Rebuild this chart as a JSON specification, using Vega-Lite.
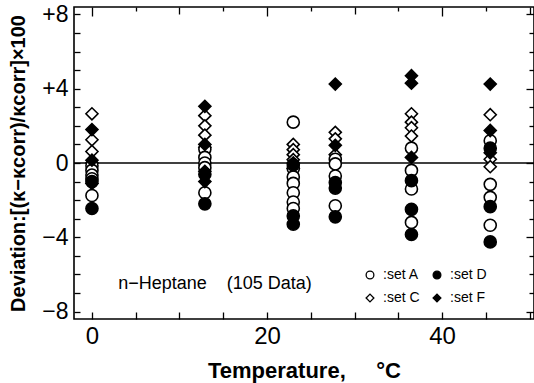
{
  "$schema": "https://vega.github.io/schema/vega-lite/v6.json",
  "width": 460,
  "height": 312,
  "autosize": {"type": "none"},
  "padding": {"left": 74, "top": 7, "right": 0, "bottom": 64},
  "background": "white",
  "config": {
    "view": {"stroke": "black", "strokeWidth": 1.6},
    "font": "Liberation Sans",
    "axis": {"domain": false, "grid": false, "tickColor": "black", "tickWidth": 1.3, "labelColor": "black", "titleColor": "black", "labelFont": "Liberation Sans", "titleFont": "Liberation Sans"},
    "legend": {"symbolStrokeColor": "black", "symbolStrokeWidth": 1.3}
  },
  "datasets": {
    "pts": [
      {"T": 0, "dev": 2.65, "set": "C"}, {"T": 0, "dev": 1.25, "set": "C"}, {"T": 0, "dev": 0.62, "set": "C"}, {"T": 0, "dev": 0.0, "set": "C"},
      {"T": 0, "dev": -0.15, "set": "A"}, {"T": 0, "dev": -0.4, "set": "A"}, {"T": 0, "dev": -0.65, "set": "A"}, {"T": 0, "dev": -0.85, "set": "A"}, {"T": 0, "dev": -1.75, "set": "A"},
      {"T": 0, "dev": 1.8, "set": "F"}, {"T": 0, "dev": 0.15, "set": "F"}, {"T": 0, "dev": -1.1, "set": "F"},
      {"T": 0, "dev": -1.0, "set": "D"}, {"T": 0, "dev": -2.45, "set": "D"},
      {"T": 12.9, "dev": 2.55, "set": "C"}, {"T": 12.9, "dev": 2.0, "set": "C"}, {"T": 12.9, "dev": 1.5, "set": "C"}, {"T": 12.9, "dev": 0.85, "set": "C"},
      {"T": 12.9, "dev": 0.75, "set": "A"}, {"T": 12.9, "dev": 0.3, "set": "A"}, {"T": 12.9, "dev": 0.0, "set": "A"}, {"T": 12.9, "dev": -0.25, "set": "A"}, {"T": 12.9, "dev": -1.6, "set": "A"},
      {"T": 12.9, "dev": 3.05, "set": "F"}, {"T": 12.9, "dev": 1.0, "set": "F"}, {"T": 12.9, "dev": -0.45, "set": "F"}, {"T": 12.9, "dev": -1.0, "set": "F"},
      {"T": 12.9, "dev": -0.6, "set": "D"}, {"T": 12.9, "dev": -2.2, "set": "D"},
      {"T": 23, "dev": 1.0, "set": "C"}, {"T": 23, "dev": 0.72, "set": "C"}, {"T": 23, "dev": 0.45, "set": "C"}, {"T": 23, "dev": 0.18, "set": "C"}, {"T": 23, "dev": -0.3, "set": "C"},
      {"T": 23, "dev": 2.2, "set": "A"}, {"T": 23, "dev": -0.3, "set": "A"}, {"T": 23, "dev": -0.75, "set": "A"}, {"T": 23, "dev": -1.1, "set": "A"}, {"T": 23, "dev": -1.6, "set": "A"}, {"T": 23, "dev": -2.1, "set": "A"}, {"T": 23, "dev": -2.45, "set": "A"},
      {"T": 23, "dev": 0.0, "set": "F"},
      {"T": 23, "dev": -0.1, "set": "D"}, {"T": 23, "dev": -2.85, "set": "D"}, {"T": 23, "dev": -3.3, "set": "D"},
      {"T": 27.8, "dev": 1.65, "set": "C"}, {"T": 27.8, "dev": 1.3, "set": "C"}, {"T": 27.8, "dev": 0.45, "set": "C"},
      {"T": 27.8, "dev": 0.2, "set": "A"}, {"T": 27.8, "dev": -0.05, "set": "A"}, {"T": 27.8, "dev": -0.7, "set": "A"}, {"T": 27.8, "dev": -2.3, "set": "A"},
      {"T": 27.8, "dev": 4.25, "set": "F"}, {"T": 27.8, "dev": 0.95, "set": "F"},
      {"T": 27.8, "dev": -1.05, "set": "D"}, {"T": 27.8, "dev": -1.35, "set": "D"}, {"T": 27.8, "dev": -2.9, "set": "D"},
      {"T": 36.5, "dev": 2.65, "set": "C"}, {"T": 36.5, "dev": 2.2, "set": "C"}, {"T": 36.5, "dev": 1.9, "set": "C"}, {"T": 36.5, "dev": 1.45, "set": "C"},
      {"T": 36.5, "dev": 0.8, "set": "A"}, {"T": 36.5, "dev": -0.4, "set": "A"}, {"T": 36.5, "dev": -1.4, "set": "A"}, {"T": 36.5, "dev": -3.2, "set": "A"},
      {"T": 36.5, "dev": 4.7, "set": "F"}, {"T": 36.5, "dev": 4.3, "set": "F"}, {"T": 36.5, "dev": 0.3, "set": "F"},
      {"T": 36.5, "dev": -0.95, "set": "D"}, {"T": 36.5, "dev": -2.5, "set": "D"}, {"T": 36.5, "dev": -3.85, "set": "D"},
      {"T": 45.5, "dev": 2.6, "set": "C"}, {"T": 45.5, "dev": 0.2, "set": "C"}, {"T": 45.5, "dev": -0.2, "set": "C"},
      {"T": 45.5, "dev": 1.2, "set": "A"}, {"T": 45.5, "dev": -1.15, "set": "A"}, {"T": 45.5, "dev": -1.85, "set": "A"}, {"T": 45.5, "dev": -3.35, "set": "A"},
      {"T": 45.5, "dev": 4.25, "set": "F"}, {"T": 45.5, "dev": 1.75, "set": "F"}, {"T": 45.5, "dev": 0.55, "set": "F"},
      {"T": 45.5, "dev": 0.8, "set": "D"}, {"T": 45.5, "dev": -2.35, "set": "D"}, {"T": 45.5, "dev": -4.25, "set": "D"}
    ],
    "notes": [{"T": 3, "dev": -6.5, "label": "n−Heptane\u00a0\u00a0\u00a0\u00a0(105 Data)"}]
  },
  "resolve": {"axis": {"x": "independent", "y": "independent"}},
  "layer": [
    {
      "data": {"name": "notes"},
      "mark": {"type": "rule", "color": "black", "strokeWidth": 1.3},
      "encoding": {"y": {"datum": 0, "type": "quantitative", "axis": null}}
    },
    {
      "data": {"name": "pts"},
      "mark": {"type": "point", "filled": false, "size": 145, "strokeWidth": 1.6, "opacity": 1},
      "encoding": {
        "x": {
          "field": "T", "type": "quantitative",
          "scale": {"domain": [-2.05, 50.5], "nice": false, "zero": false},
          "axis": {
            "orient": "bottom",
            "offset": -7,
            "values": [0, 5, 10, 15, 20, 25, 30, 35, 40, 45, 50],
            "labelExpr": "datum.value % 20 === 0 ? datum.label : ''",
            "tickSize": 7,
            "labelPadding": 5,
            "labelFontSize": 24,
            "labelFlush": false,
            "title": "Temperature,\u00a0\u00a0\u00a0\u00a0\u00a0°C",
            "titleFontSize": 22,
            "titleFontWeight": "bold",
            "titleBaseline": "middle",
            "titleY": 58
          }
        },
        "y": {
          "field": "dev", "type": "quantitative",
          "scale": {"domain": [-8.4, 8.4], "nice": false, "zero": false},
          "axis": {
            "orient": "left",
            "offset": -6,
            "values": [-8, -7, -6, -5, -4, -3, -2, -1, 0, 1, 2, 3, 4, 5, 6, 7, 8],
            "labelExpr": "datum.value % 4 !== 0 ? '' : datum.value > 0 ? '+' + datum.value : datum.value < 0 ? '−' + abs(datum.value) : '0'",
            "tickSize": 6,
            "labelPadding": 6,
            "labelFontSize": 23,
            "labelFlush": false,
            "title": "Deviation:[(κ−κcorr)/κcorr]×100",
            "titleFontSize": 20,
            "titleFontWeight": "bold",
            "titleAngle": -90,
            "titleAlign": "center",
            "titleBaseline": "middle",
            "titleX": -62,
            "titleY": 156
          }
        },
        "fill": {
          "field": "set", "type": "nominal",
          "scale": {"domain": ["A", "C", "D", "F"], "range": ["white", "white", "black", "black"]},
          "legend": {
            "title": null, "orient": "none", "legendX": 289, "legendY": 261, "columns": 2, "padding": 0,
            "symbolSize": 60,
            "labelFontSize": 14, "labelFont": "Liberation Sans", "labelColor": "black", "labelOffset": 6,
            "columnPadding": 10, "rowPadding": 9, "labelExpr": "':set ' + datum.label"
          }
        },
        "stroke": {
          "field": "set", "type": "nominal",
          "scale": {"domain": ["A", "C", "D", "F"], "range": ["black", "black", "black", "black"]},
          "legend": {
            "title": null, "orient": "none", "legendX": 289, "legendY": 261, "columns": 2, "padding": 0,
            "symbolSize": 60,
            "labelFontSize": 14, "labelFont": "Liberation Sans", "labelColor": "black", "labelOffset": 6,
            "columnPadding": 10, "rowPadding": 9, "labelExpr": "':set ' + datum.label"
          }
        },
        "shape": {
          "field": "set", "type": "nominal",
          "scale": {"domain": ["A", "C", "D", "F"], "range": ["circle", "diamond", "circle", "diamond"]},
          "legend": {
            "title": null, "orient": "none", "legendX": 289, "legendY": 261, "columns": 2, "padding": 0,
            "symbolSize": 60,
            "labelFontSize": 14, "labelFont": "Liberation Sans", "labelColor": "black", "labelOffset": 6,
            "columnPadding": 10, "rowPadding": 9, "labelExpr": "':set ' + datum.label"
          }
        }
      }
    },
    {
      "data": {"name": "notes"},
      "mark": {"type": "text", "align": "left", "baseline": "middle", "fontSize": 18, "font": "Liberation Sans", "color": "black"},
      "encoding": {
        "x": {
          "field": "T", "type": "quantitative",
          "axis": {
            "orient": "top", "labels": false, "title": null,
            "values": [0, 5, 10, 15, 20, 25, 30, 35, 40, 45, 50],
            "tickSize": {"condition": [{"test": "datum.value % 20 === 0", "value": -9}, {"test": "datum.value % 10 === 0", "value": -7}], "value": -4}
          }
        },
        "y": {
          "field": "dev", "type": "quantitative",
          "axis": {
            "orient": "right", "labels": false, "title": null,
            "values": [-8, -7, -6, -5, -4, -3, -2, -1, 0, 1, 2, 3, 4, 5, 6, 7, 8],
            "tickSize": {"condition": {"test": "datum.value % 4 === 0", "value": -8}, "value": -5}
          }
        },
        "text": {"field": "label"}
      }
    }
  ]
}
